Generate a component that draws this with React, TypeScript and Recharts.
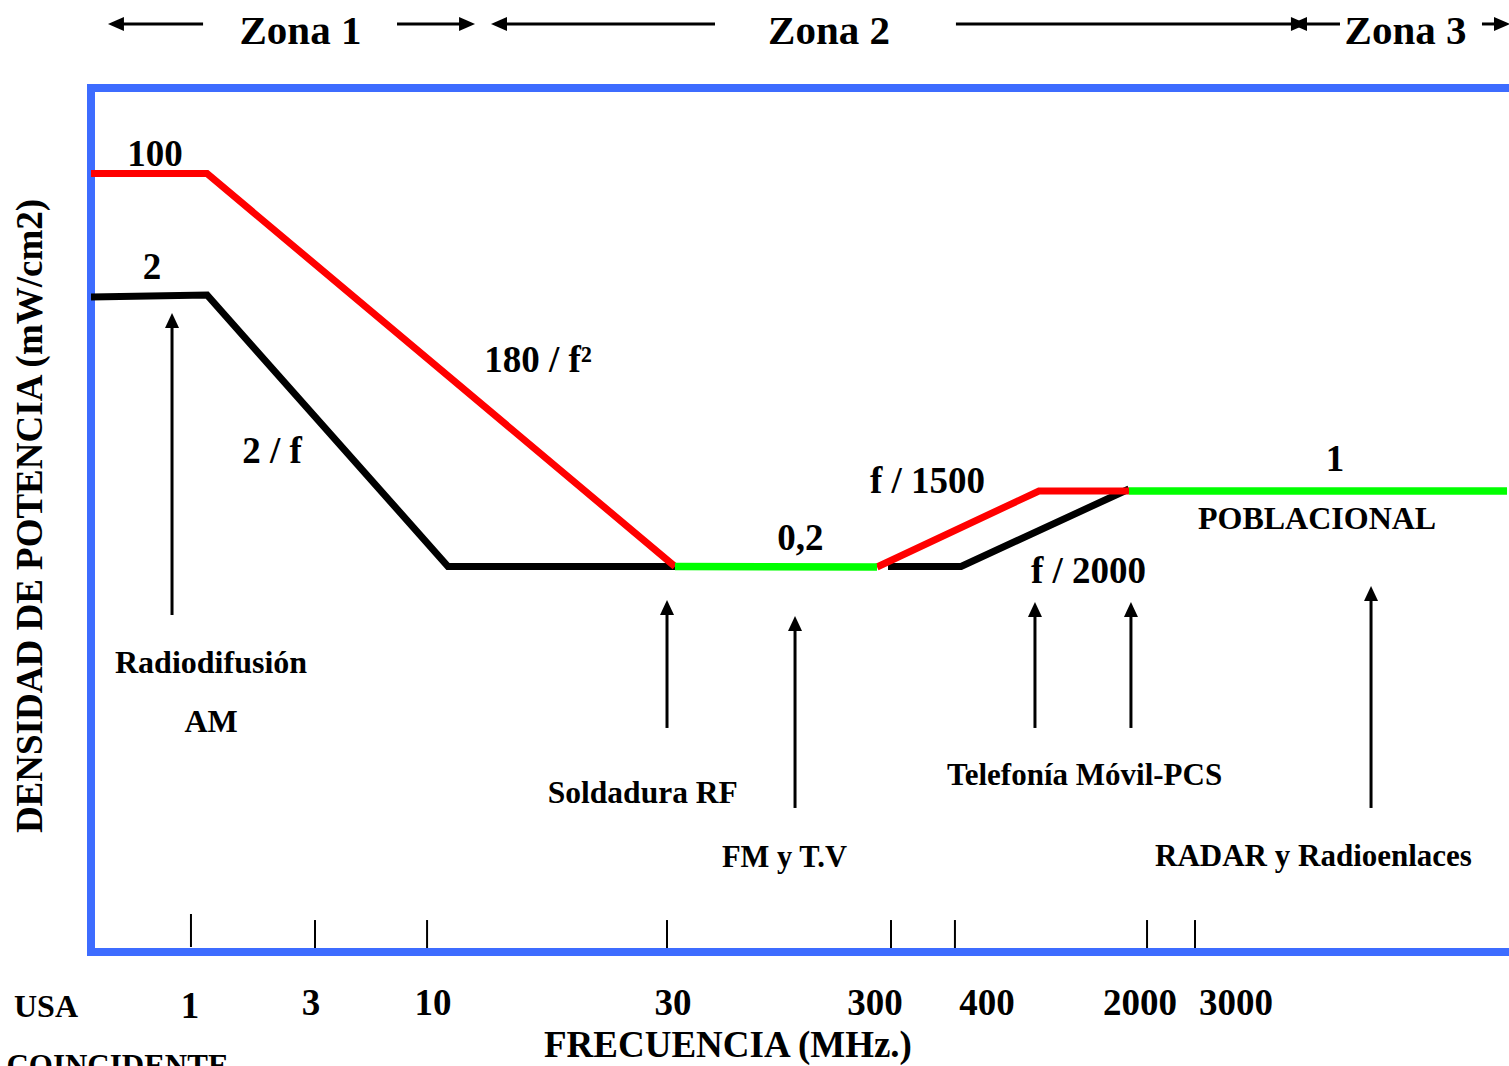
import React from 'react';
import {
  LineChart,
  Line,
  XAxis,
  YAxis,
  ReferenceArea,
  ReferenceLine,
  ReferenceDot,
} from 'recharts';

const FONT = '"Liberation Serif", "Times New Roman", serif';

// Schematic diagram: x and y are positions inside the blue frame (0..100 each way)
const tickLabels = ['1', '3', '10', '30', '300', '400', '2000', '3000'];
const tickPositions = [7.02, 15.73, 23.6, 40.45, 56.18, 60.67, 74.16, 77.53];
const tickLabelShift = [-1, -4, 6, 6, -16, 32, -7, 41];

// red: ocupacional (100 -> 180/f^2 -> f/1500)
const ocupacionalX = [0, 8.15, 41.01, 48, 55.2, 66.57, 72.89];
const ocupacionalY = [90.1, 90.1, 44.62, null, 44.56, 53.36, 53.36];

// black: poblacional (2 -> 2/f -> 0,2 -> f/2000)
const poblacionalX = [0, 8.15, 25.07, 41.01, 48, 55.97, 61.1, 72.89];
const poblacionalY = [75.81, 76.04, 44.62, 44.62, null, 44.62, 44.62, 53.59];

// green: coincidente
const coincidenteX = [41.01, 55.2, 64, 72.89, 99.44];
const coincidenteY = [44.62, 44.56, null, 53.36, 53.36];

const toPoints = (xs: number[], ys: (number | null)[]) =>
  xs.map((x, i) => ({ x, y: ys[i] }));

const ocupacionalData = toPoints(ocupacionalX, ocupacionalY);
const poblacionalData = toPoints(poblacionalX, poblacionalY);
const coincidenteData = toPoints(coincidenteX, coincidenteY);

// up arrows pointing to bands
const bandArrowX = [5.69, 40.45, 49.44, 66.29, 73.03, 89.89];
const bandArrowTip = [73.96, 40.74, 38.89, 40.51, 40.51, 42.36];
const bandArrowBase = [39.0, 25.93, 16.67, 25.93, 25.93, 16.67];

// zone header arrows: [tailX, tipX]
const zoneArrows: [number, number][] = [
  [7.87, 1.19],
  [21.49, 26.97],
  [43.82, 28.09],
  [60.74, 85.39],
  [87.71, 84.27],
  [97.68, 99.65],
];
const ZONE_Y = 107.41;

type Lbl = { text: string; x: number; y: number; size: number; angle?: number };
const labels: Lbl[] = [
  { text: 'Zona 1', x: 14.71, y: 106.83, size: 41 },
  { text: 'Zona 2', x: 51.83, y: 106.83, size: 41 },
  { text: 'Zona 3', x: 92.31, y: 106.83, size: 41 },
  { text: '100', x: 4.49, y: 92.48, size: 37 },
  { text: '2', x: 4.28, y: 79.4, size: 37 },
  { text: '180 / f²', x: 31.39, y: 68.63, size: 37 },
  { text: '2 / f', x: 12.71, y: 58.1, size: 37 },
  { text: '0,2', x: 49.82, y: 48.03, size: 37 },
  { text: 'f / 1500', x: 58.74, y: 54.63, size: 37 },
  { text: 'f / 2000', x: 70.05, y: 44.27, size: 37 },
  { text: '1', x: 87.36, y: 57.18, size: 37 },
  { text: 'POBLACIONAL', x: 86.1, y: 50.23, size: 32 },
  { text: 'Radiodifusión', x: 8.43, y: 33.56, size: 32 },
  { text: 'AM', x: 8.43, y: 26.74, size: 32 },
  { text: 'Soldadura RF', x: 38.75, y: 18.52, size: 31.5 },
  { text: 'FM y T.V', x: 48.7, y: 11.11, size: 30.5 },
  { text: 'Telefonía Móvil-PCS', x: 69.77, y: 20.6, size: 31 },
  { text: 'RADAR y Radioenlaces', x: 85.85, y: 11.23, size: 31 },
  { text: 'USA', x: -3.16, y: -6.19, size: 32 },
  { text: 'COINCIDENTE', x: 1.86, y: -13.1, size: 31 },
  { text: 'FRECUENCIA (MHz.)', x: 44.73, y: -10.65, size: 37 },
  { text: 'DENSIDAD DE POTENCIA (mW/cm2)', x: -4.35, y: 50.46, size: 37, angle: -90 },
];

const renderArrow = (p: any, len: number, half: number, width: number) => {
  const { x1, y1, x2, y2 } = p;
  const dx = x2 - x1;
  const dy = y2 - y1;
  const d = Math.hypot(dx, dy) || 1;
  const ux = dx / d;
  const uy = dy / d;
  const bx = x2 - ux * len;
  const by = y2 - uy * len;
  return (
    <g>
      <line x1={x1} y1={y1} x2={bx + ux * 2} y2={by + uy * 2} stroke="#000" strokeWidth={width} />
      <polygon
        points={`${x2},${y2} ${bx - uy * half},${by + ux * half} ${bx + uy * half},${by - ux * half}`}
        fill="#000"
      />
    </g>
  );
};

const FreqTick = (props: any) => {
  const { x, y, payload } = props;
  const i = tickPositions.indexOf(payload.value);
  if (i < 0) return null;
  return (
    <text
      x={x + tickLabelShift[i]}
      y={y + (i === 0 ? 66 : 63)}
      textAnchor="middle"
      fontFamily={FONT}
      fontWeight={700}
      fontSize={37}
      fill="#000"
    >
      {tickLabels[i]}
    </text>
  );
};

export default function App() {
  return (
    <div
      style={{
        position: 'fixed',
        left: 0,
        top: 0,
        width: 1509,
        height: 1066,
        overflow: 'hidden',
        background: '#fff',
        fontFamily: FONT,
      }}
    >
      <LineChart width={1530} height={1066} margin={{ top: 88, right: 15, bottom: 0, left: 91 }}>
        <XAxis
          type="number"
          dataKey="x"
          domain={[0, 100]}
          ticks={tickPositions}
          interval={0}
          tick={FreqTick}
          axisLine={false}
          tickLine={false}
          tickSize={0}
          tickMargin={0}
          height={114}
          allowDataOverflow
        />
        <YAxis type="number" dataKey="y" domain={[0, 100]} hide allowDataOverflow />

        <ReferenceArea
          x1={0}
          x2={100}
          y1={0}
          y2={100}
          fill="none"
          fillOpacity={0}
          stroke="#3d6cff"
          strokeWidth={8}
          ifOverflow="visible"
        />

        {tickPositions.map((t, i) => (
          <ReferenceLine
            key={`tick-${i}`}
            segment={[
              { x: t, y: i === 0 ? 4.4 : 3.7 },
              { x: t, y: i === 0 ? 0.58 : 0.46 },
            ]}
            stroke="#000"
            strokeWidth={2}
            ifOverflow="visible"
          />
        ))}

        {bandArrowX.map((x, i) => (
          <ReferenceLine
            key={`band-${i}`}
            segment={[
              { x, y: bandArrowBase[i] },
              { x, y: bandArrowTip[i] },
            ]}
            stroke="#000"
            strokeWidth={3}
            ifOverflow="visible"
            shape={(p: any) => renderArrow(p, 15, 7, 3)}
          />
        ))}

        {zoneArrows.map(([a, b], i) => (
          <ReferenceLine
            key={`zone-${i}`}
            segment={[
              { x: a, y: ZONE_Y },
              { x: b, y: ZONE_Y },
            ]}
            stroke="#000"
            strokeWidth={3}
            ifOverflow="visible"
            shape={(p: any) => renderArrow(p, 16, 7, 3)}
          />
        ))}

        <Line
          data={poblacionalData}
          dataKey="y"
          stroke="#000000"
          strokeWidth={7}
          dot={false}
          activeDot={false}
          connectNulls={false}
          isAnimationActive={false}
        />
        <Line
          data={ocupacionalData}
          dataKey="y"
          stroke="#ff0000"
          strokeWidth={7}
          dot={false}
          activeDot={false}
          connectNulls={false}
          isAnimationActive={false}
        />
        <Line
          data={coincidenteData}
          dataKey="y"
          stroke="#00ff00"
          strokeWidth={7.5}
          dot={false}
          activeDot={false}
          connectNulls={false}
          isAnimationActive={false}
        />

        {labels.map((l) => (
          <ReferenceDot
            key={l.text}
            x={l.x}
            y={l.y}
            r={0}
            fill="none"
            stroke="none"
            ifOverflow="visible"
            label={{
              value: l.text,
              position: 'center',
              fill: '#000',
              fontSize: l.size,
              fontWeight: 700,
              fontFamily: FONT,
              angle: l.angle ?? 0,
            }}
          />
        ))}
      </LineChart>
    </div>
  );
}
